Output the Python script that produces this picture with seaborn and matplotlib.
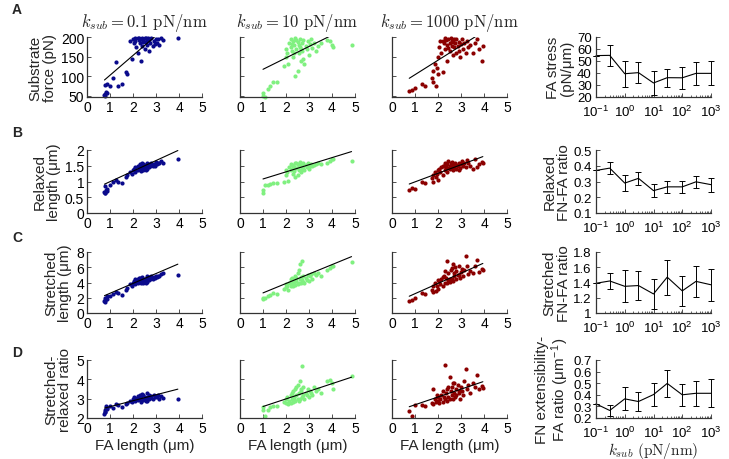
import numpy as np
import matplotlib.pyplot as plt
import seaborn as sns
from matplotlib.ticker import FuncFormatter, LogLocator

# FA length (um) for each substrate stiffness column
fa_len_k01 = [0.78, 0.80, 0.82, 0.76, 0.85, 0.80, 0.88,
              1.00, 1.15, 1.25, 1.35, 1.50, 1.70, 1.75, 1.85, 1.95,
              2.00, 2.05, 2.10, 2.10, 2.15, 2.20, 2.20, 2.25, 2.30, 2.30,
              2.35, 2.40, 2.40, 2.45, 2.50, 2.50, 2.55, 2.60, 2.60, 2.65,
              2.70, 2.70, 2.75, 2.80, 2.85, 2.90, 2.95, 3.00, 2.25, 2.45,
              2.55, 2.35,
              3.05, 3.10, 3.15, 3.20, 3.30, 3.95]
fa_len_k10 = [1.00, 1.00, 1.10, 1.20, 1.30, 1.45, 1.60,
              1.90, 2.00, 2.00, 2.05, 2.10,
              2.15, 2.20, 2.20, 2.25, 2.30, 2.30, 2.35, 2.40, 2.40, 2.45,
              2.50, 2.50, 2.55, 2.60, 2.60, 2.65, 2.70, 2.70, 2.75, 2.80,
              2.85, 2.90, 2.95, 3.00, 3.05, 3.10, 3.15, 3.20, 3.30, 2.35,
              2.45, 2.55, 2.65, 2.75, 2.25, 3.40,
              3.50, 3.80, 3.90, 4.00, 4.05, 4.85]
fa_len_k1000 = [0.75, 0.85, 1.00, 1.30, 1.45,
                1.75, 1.80, 1.80, 1.85, 1.90, 1.95, 2.00, 2.00,
                2.05, 2.10, 2.15, 2.20, 2.25, 2.30, 2.30, 2.35, 2.40, 2.40,
                2.45, 2.50, 2.50, 2.55, 2.60, 2.60, 2.65, 2.70, 2.70, 2.75,
                2.80, 2.80, 2.85, 2.90, 2.95, 3.00, 3.05, 3.10, 3.15, 3.20,
                3.25, 3.30, 2.20, 2.45, 2.65, 2.90,
                3.40, 3.50, 3.60, 3.70, 3.80, 3.90, 3.95]

# substrate force (pN)
force_k01 = [55, 50, 60, 52, 80, 78, 58,
             75, 95, 135, 75, 80, 110, 105, 190, 145,
             195, 185, 198, 190, 175, 198, 160, 192, 196, 185,
             140, 198, 178, 193, 198, 170, 188, 196, 180, 198,
             165, 192, 185, 197, 178, 190, 183, 196, 198, 186, 197, 194,
             185, 195, 180, 198, 193, 197]
force_k10 = [58, 50, 48, 67, 76, 84, 84,
             127, 150, 170, 160, 131,
             185, 175, 195, 165, 190, 150, 180, 198, 101, 170,
             114, 188, 160, 195, 175, 140, 185, 165, 193, 130,
             178, 170, 190, 155, 182, 195, 172, 185, 165, 158,
             192, 180, 170, 145, 183, 178,
             185, 193, 190, 180, 174, 180]
force_k1000 = [62, 65, 69, 80, 74,
               95, 114, 84, 131, 76, 120, 150, 105,
               175, 190, 160, 110, 185, 198, 170, 192, 180, 140,
               195, 185, 165, 198, 178, 190, 155, 196, 175, 185,
               160, 195, 178, 188, 150, 182, 195, 170, 185, 160,
               190, 175, 190, 172, 188, 165,
               180, 158, 185, 195, 170, 140, 178]

# relaxed length (um)
relaxed_k01 = [0.65, 0.62, 0.72, 0.68, 0.75, 0.85, 0.70,
               0.90, 1.00, 1.05, 0.98, 0.95, 1.15, 1.20, 1.30, 1.25,
               1.35, 1.40, 1.30, 1.45, 1.38, 1.50, 1.35, 1.42, 1.55, 1.40,
               1.32, 1.60, 1.45, 1.38, 1.52, 1.42, 1.45, 1.58, 1.40, 1.50,
               1.45, 1.55, 1.48, 1.60, 1.50, 1.55, 1.50, 1.62, 1.48, 1.55,
               1.35, 1.50,
               1.55, 1.60, 1.58, 1.65, 1.60, 1.70]
relaxed_k10 = [0.74, 0.62, 0.90, 0.90, 0.92, 0.95, 0.96,
               1.00, 1.38, 1.20, 1.30, 1.03,
               1.45, 1.35, 1.55, 1.40, 1.50, 1.25, 1.45, 1.60, 1.15, 1.42,
               1.20, 1.55, 1.38, 1.62, 1.48, 1.30, 1.50, 1.40, 1.60, 1.35,
               1.52, 1.45, 1.58, 1.40, 1.50, 1.55, 1.48, 1.52, 1.55, 1.32,
               1.58, 1.50, 1.55, 1.42, 1.52, 1.60,
               1.55, 1.58, 1.65, 1.72, 1.70, 1.66]
relaxed_k1000 = [0.72, 0.80, 0.77, 0.97, 0.94,
                 1.10, 1.20, 1.00, 1.30, 1.13, 1.25, 1.38, 1.05,
                 1.40, 1.30, 1.45, 1.20, 1.50, 1.60, 1.35, 1.45, 1.55, 1.30,
                 1.65, 1.50, 1.40, 1.58, 1.45, 1.62, 1.38, 1.55, 1.45, 1.60,
                 1.40, 1.52, 1.48, 1.60, 1.42, 1.55, 1.65, 1.50, 1.60, 1.45,
                 1.68, 1.58, 1.48, 1.42, 1.56, 1.35,
                 1.50, 1.40, 1.72, 1.45, 1.55, 1.62, 1.60]

# stretched length (um)
stretched_k01 = [1.7, 1.5, 1.9, 1.6, 2.2, 2.0, 1.8,
                 2.2, 2.5, 2.7, 2.6, 2.4, 3.0, 3.3, 3.8, 3.6,
                 4.0, 4.2, 3.8, 4.4, 4.1, 4.5, 4.0, 4.3, 4.6, 4.1,
                 3.9, 4.7, 4.3, 4.0, 4.5, 4.2, 4.4, 4.8, 4.1, 4.5,
                 4.3, 4.7, 4.4, 4.8, 4.5, 4.7, 4.6, 4.9, 4.6, 4.5, 4.0, 4.4,
                 4.7, 4.9, 4.8, 5.1, 5.3, 5.0]
stretched_k10 = [1.8, 2.0, 1.95, 2.2, 2.4, 2.6, 2.5,
                 3.2, 3.8, 3.4, 3.5, 3.0,
                 4.0, 3.6, 4.4, 3.9, 4.3, 3.5, 4.1, 4.8, 3.7, 4.2,
                 3.8, 5.2, 4.0, 6.4, 4.5, 3.9, 6.8, 4.3, 4.9, 4.0,
                 4.6, 4.3, 5.0, 4.2, 4.8, 5.1, 4.5, 5.3, 5.0, 3.8,
                 4.6, 5.6, 4.7, 4.1, 4.6, 5.2,
                 4.9, 5.7, 5.9, 6.1, 6.2, 6.7]
stretched_k1000 = [1.6, 1.65, 2.0, 2.6, 2.5,
                   3.0, 3.5, 2.7, 4.0, 2.9, 3.6, 4.3, 3.2,
                   4.2, 3.8, 4.5, 3.5, 4.8, 5.5, 4.0, 4.6, 6.8, 3.9,
                   5.2, 4.5, 4.1, 5.6, 4.4, 5.9, 4.2, 5.3, 4.8, 6.0,
                   4.5, 5.5, 5.0, 6.2, 4.6, 5.4, 5.8, 4.9, 5.6, 7.5,
                   6.2, 5.1, 4.7, 4.3, 6.4, 5.0,
                   5.5, 5.2, 6.1, 7.0, 5.4, 5.8, 5.7]

# stretched-relaxed ratio
ratio_k01 = [2.4, 2.3, 2.6, 2.2, 2.5, 2.3, 2.45,
             2.6, 2.5, 2.7, 2.65, 2.55, 2.7, 2.8, 2.9, 2.85,
             3.0, 3.1, 2.9, 3.05, 3.0, 3.15, 2.95, 3.05, 3.2, 3.0,
             2.85, 3.25, 3.0, 2.95, 3.1, 3.0, 3.05, 3.3, 2.9, 3.1,
             3.0, 3.2, 3.05, 3.15, 3.0, 3.2, 3.1, 3.15, 3.1, 3.2, 2.9, 3.05,
             3.1, 3.2, 3.0, 3.15, 3.05, 3.0]
ratio_k10 = [2.57, 2.4, 2.12, 2.43, 2.55, 2.6, 2.6,
             2.85, 3.0, 2.8, 3.1, 2.75,
             2.9, 3.2, 2.8, 3.0, 3.4, 2.85, 3.1, 3.5, 2.9, 3.2,
             3.0, 3.7, 3.3, 3.9, 3.0, 3.4, 4.69, 3.1, 3.6, 3.0,
             3.3, 3.2, 3.5, 3.1, 3.4, 3.3, 3.2, 3.6, 3.4, 3.0,
             3.6, 2.9, 3.5, 3.2, 3.3, 3.5,
             3.3, 3.9, 3.97, 3.8, 3.5, 4.18]
ratio_k1000 = [2.34, 2.09, 2.69, 2.69, 2.6,
               2.8, 3.49, 2.7, 3.0, 2.85, 3.2, 2.9, 3.1,
               2.8, 3.0, 3.2, 2.85, 3.1, 4.74, 3.0, 3.3, 2.9, 3.5,
               3.1, 4.14, 3.0, 3.4, 3.2, 3.6, 3.0, 3.3, 3.8, 3.1,
               3.5, 3.2, 3.7, 3.3, 3.0, 3.6, 3.4, 3.2, 3.9, 4.52,
               3.5, 3.7, 3.4, 3.6, 3.8, 3.4,
               3.3, 3.8, 3.6, 4.2, 3.5, 3.63, 3.54]

# linear fits (slope, intercept) per row, per column
fit_force = [(50.5, 52.0), (29.1, 88.5), (36.9, 67.0)]
fit_relaxed = [(0.335, 0.66), (0.226, 0.854), (0.272, 0.716)]
fit_stretched = [(1.295, 1.29), (1.236, 1.40), (1.344, 1.19)]
fit_ratio = [(0.307, 2.28), (0.394, 2.20), (0.404, 2.28)]

# summary vs substrate stiffness
k_sub = [0.1, 0.3, 1, 3, 10, 30, 100, 300, 1000]
stress_mean = [54.5, 54.7, 39.4, 40.3, 31.7, 36.1, 36.0, 39.7, 39.7]
stress_err = [0, 8.6, 11.0, 9.0, 9.7, 7.5, 9.0, 9.7, 10.0]
relaxed_fnfa_mean = [0.37, 0.385, 0.29, 0.32, 0.242, 0.266, 0.266, 0.298, 0.28]
relaxed_fnfa_err = [0, 0.036, 0.05, 0.04, 0.04, 0.037, 0.04, 0.04, 0.045]
stretched_fnfa_mean = [1.39, 1.42, 1.35, 1.36, 1.25, 1.47, 1.29, 1.415, 1.37]
stretched_fnfa_err = [0, 0.11, 0.21, 0.19, 0.20, 0.23, 0.20, 0.20, 0.21]
ext_mean = [0.322, 0.265, 0.365, 0.342, 0.402, 0.498, 0.40, 0.413, 0.413]
ext_err = [0, 0.045, 0.10, 0.08, 0.10, 0.12, 0.095, 0.11, 0.12]

col_titles = [r'$k_{sub} = 0.1\ \mathrm{pN/nm}$',
              r'$k_{sub} = 10\ \mathrm{pN/nm}$',
              r'$k_{sub} = 1000\ \mathrm{pN/nm}$']
col_colors = ['#0a0a8c', '#80f080', '#8b0000']
fa_lens = [fa_len_k01, fa_len_k10, fa_len_k1000]

rows = [
    dict(ys=[force_k01, force_k10, force_k1000], fits=fit_force,
         ylim=(47, 200), yticks=[50, 100, 150, 200],
         ylabel='Substrate\nforce (pN)',
         mean=stress_mean, err=stress_err, ylim4=(20, 70),
         yticks4=[20, 30, 40, 50, 60, 70], ylabel4='FA stress\n(pN/μm)'),
    dict(ys=[relaxed_k01, relaxed_k10, relaxed_k1000], fits=fit_relaxed,
         ylim=(0, 2), yticks=[0, 0.5, 1, 1.5, 2],
         ylabel='Relaxed\nlength (μm)',
         mean=relaxed_fnfa_mean, err=relaxed_fnfa_err, ylim4=(0.1, 0.5),
         yticks4=[0.1, 0.2, 0.3, 0.4, 0.5], ylabel4='Relaxed\nFN-FA ratio'),
    dict(ys=[stretched_k01, stretched_k10, stretched_k1000], fits=fit_stretched,
         ylim=(0, 8), yticks=[0, 2, 4, 6, 8],
         ylabel='Stretched\nlength (μm)',
         mean=stretched_fnfa_mean, err=stretched_fnfa_err, ylim4=(1, 1.8),
         yticks4=[1, 1.2, 1.4, 1.6, 1.8], ylabel4='Stretched\nFN-FA ratio'),
    dict(ys=[ratio_k01, ratio_k10, ratio_k1000], fits=fit_ratio,
         ylim=(2, 5), yticks=[2, 3, 4, 5],
         ylabel='Stretched-\nrelaxed ratio',
         mean=ext_mean, err=ext_err, ylim4=(0.2, 0.7),
         yticks4=[0.2, 0.3, 0.4, 0.5, 0.6, 0.7],
         ylabel4='FN extensibility-\nFA ratio (μm$^{\\mathdefault{-1}}$)'),
]
panel_letters = ['A', 'B', 'C', 'D']

sns.set_style('ticks')
plt.rcParams['font.family'] = ['Liberation Sans', 'DejaVu Sans']
plt.rcParams['mathtext.fontset'] = 'cm'

W, H = 729, 460
fig = plt.figure(figsize=(W / 100, H / 100), dpi=100)

# pixel layout
col_left = [87, 240, 392, 596]
ax_w = 115
row_top = [38, 151, 253, 361]
row_h = [60, 63, 61, 58]
letter_y = [10, 133, 238, 353]

fmt = FuncFormatter(lambda v, p: f'{v:g}')


def px_axes(left, top, w, h):
    return fig.add_axes([left / W, 1 - (top + h) / H, w / W, h / H])


def style_axes(ax, size=10):
    sns.despine(ax=ax)
    for s in ['left', 'bottom']:
        ax.spines[s].set_color('#333333')
        ax.spines[s].set_linewidth(0.9)
    ax.tick_params(direction='in', length=3, width=0.6, labelsize=size, pad=2,
                   colors='#333333', labelcolor='black')


for r, row in enumerate(rows):
    for c in range(3):
        ax = px_axes(col_left[c], row_top[r], ax_w, row_h[r])
        x = np.array(fa_lens[c])
        sns.scatterplot(x=x, y=row['ys'][c], ax=ax, color=col_colors[c],
                        s=9, linewidth=0, legend=False, clip_on=False, zorder=2)
        slope, icpt = row['fits'][c]
        xs = np.array([x.min(), x.max()])
        sns.lineplot(x=xs, y=slope * xs + icpt, ax=ax, color='black',
                     linewidth=0.8, zorder=3)
        ax.set_xlim(0, 5)
        ax.set_ylim(*row['ylim'])
        ax.set_xticks([0, 1, 2, 3, 4, 5])
        ax.set_yticks(row['yticks'])
        ax.yaxis.set_major_formatter(fmt)
        style_axes(ax)
        if c == 0:
            ax.set_ylabel(row['ylabel'], fontsize=11, labelpad=3, linespacing=1.0)
        else:
            ax.tick_params(labelleft=False)
            ax.set_ylabel('')
        if r == 0:
            ax.set_title(col_titles[c], fontsize=12, pad=8)
        if r == 3:
            ax.set_xlabel('FA length (μm)', fontsize=11, labelpad=2)
        else:
            ax.set_xlabel('')

    # summary column
    ax = px_axes(col_left[3], row_top[r], ax_w, row_h[r])
    ax.set_xscale('log')
    sns.lineplot(x=k_sub, y=row['mean'], ax=ax, color='black', linewidth=0.8,
                 clip_on=False)
    ax.errorbar(k_sub, row['mean'], yerr=row['err'], fmt='none', ecolor='black',
                elinewidth=0.7, capsize=2.5, capthick=0.7, clip_on=False)
    ax.set_xlim(0.1, 1000)
    ax.set_ylim(*row['ylim4'])
    ax.set_yticks(row['yticks4'])
    ax.yaxis.set_major_formatter(fmt)
    ax.xaxis.set_major_locator(LogLocator(base=10, numticks=10))
    style_axes(ax, size=9.5)
    ax.tick_params(axis='x', pad=5)
    ax.tick_params(axis='y', pad=3)
    ax.tick_params(which='minor', direction='in', length=1.5, width=0.5)
    ax.set_ylabel(row['ylabel4'], fontsize=11, labelpad=2, linespacing=1.0)
    if r == 3:
        ax.set_xlabel(r'$k_{sub}\ \mathrm{(pN/nm)}$', fontsize=11, labelpad=0)
    else:
        ax.set_xlabel('')

    fig.text(12 / W, 1 - letter_y[r] / H, panel_letters[r], fontsize=10,
             fontweight='bold', ha='left', va='center')

fig.savefig('out.png', dpi=100)
